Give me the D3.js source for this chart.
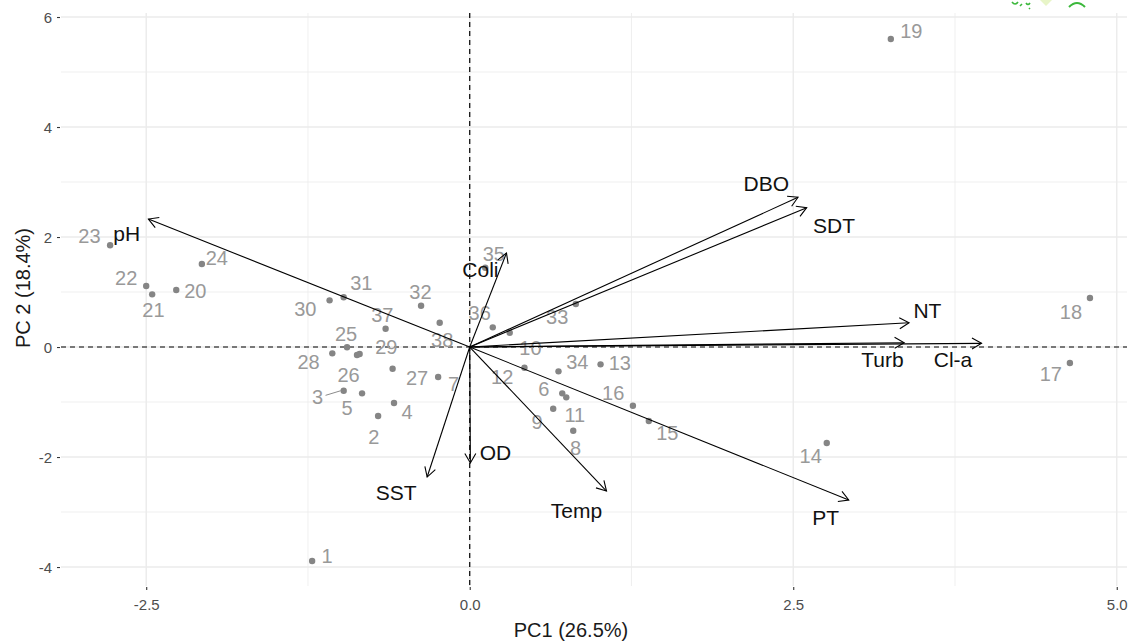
<!DOCTYPE html>
<html><head><meta charset="utf-8">
<script src="https://cdn.jsdelivr.net/npm/d3@7/dist/d3.min.js"></script>
<style>body{margin:0;background:#fff;} svg{display:block;font-family:"Liberation Sans",Arial,sans-serif;}</style>
</head><body>
<svg id="c" width="1132" height="642"></svg>
<script>
// ---- data ----
const obsIds = ["1","2","3","4","5","6","7","8","9","10","11","12","13","14","15","16","17","18","19","20","21","22","23","24","25","26","27","28","29","30","31","32","33","34","35","36","37","38"];
const obsPC1 = [-1.218,-0.708,-0.974,-0.585,-0.832,0.715,-0.244,0.800,0.645,0.309,0.746,0.423,1.011,2.759,1.384,1.261,4.638,4.793,3.254,-2.268,-2.454,-2.500,-2.779,-2.070,-0.948,-0.871,-0.596,-1.062,-0.851,-1.083,-0.974,-0.376,0.820,0.686,0.120,0.178,-0.650,-0.232];
const obsPC2 = [-3.891,-1.255,-0.795,-1.018,-0.842,-0.842,-0.545,-1.522,-1.122,0.260,-0.915,-0.376,-0.315,-1.745,-1.345,-1.067,-0.291,0.891,5.600,1.036,0.958,1.109,1.849,1.509,-0.005,-0.145,-0.395,-0.115,-0.127,0.849,0.904,0.751,0.782,-0.442,1.440,0.358,0.333,0.442];
// repelled label anchors (data units)
const lblPC1 = [-1.102,-0.742,-1.176,-0.484,-0.948,0.572,-0.124,0.817,0.521,0.469,0.812,0.251,1.160,2.635,1.527,1.109,4.491,4.646,3.413,-2.121,-2.444,-2.655,-2.939,-1.954,-0.956,-0.936,-0.407,-1.245,-0.644,-1.271,-0.838,-0.381,0.676,0.831,0.186,0.077,-0.675,-0.213];
const lblPC2 = [-3.800,-1.631,-0.915,-1.176,-1.109,-0.769,-0.673,-1.842,-1.358,-0.024,-1.236,-0.540,-0.285,-1.982,-1.558,-0.842,-0.491,0.636,5.745,1.024,0.673,1.249,2.018,1.613,0.236,-0.509,-0.569,-0.278,-0.005,0.691,1.164,1.000,0.551,-0.267,1.700,0.624,0.582,0.127];
const segmentIds = ["3"];

const varNames = ["pH","Coli","DBO","SDT","NT","Turb","Cl-a","PT","Temp","OD","SST"];
const varPC1 = [-2.483,0.284,2.537,2.604,3.395,3.357,3.955,2.929,1.057,0.005,-0.329];
const varPC2 = [2.327,1.709,2.722,2.533,0.442,0.078,0.067,-2.782,-2.618,-2.109,-2.364];
const varLblPC1 = [-2.650,0.083,2.292,2.815,3.537,3.189,3.735,2.751,0.825,0.199,-0.568];
const varLblPC2 = [2.067,1.400,2.976,2.200,0.655,-0.224,-0.224,-3.109,-2.982,-1.927,-2.655];

const xTicks = [-2.5,0.0,2.5,5.0];
const xMinor = [-1.25,1.25,3.75];
const yTicks = [-4,-2,0,2,4,6];
const yMinor = [-5,-3,-1,1,3,5];
const xTitle = "PC1 (26.5%)";
const yTitle = "PC 2 (18.4%)";

// ---- layout ----
const svg = d3.select("#c");
const P = {l:61, r:1127, t:13, b:586};
const x = d3.scaleLinear().domain([-3.1585,5.0792]).range([P.l,P.r]);
const y = d3.scaleLinear().domain([-4.345,6.073]).range([P.b,P.t]);

const grid = svg.append("g");
grid.selectAll(".vm").data(xMinor).join("line")
  .attr("x1",d=>x(d)).attr("x2",d=>x(d)).attr("y1",P.t).attr("y2",P.b)
  .attr("stroke","#ebebeb").attr("stroke-width",0.8);
grid.selectAll(".hm").data(yMinor.filter(v=>y(v)>=P.t&&y(v)<=P.b)).join("line")
  .attr("x1",P.l).attr("x2",P.r).attr("y1",d=>y(d)).attr("y2",d=>y(d))
  .attr("stroke","#ebebeb").attr("stroke-width",0.8);
grid.selectAll(".vM").data(xTicks).join("line")
  .attr("x1",d=>x(d)).attr("x2",d=>x(d)).attr("y1",P.t).attr("y2",P.b)
  .attr("stroke","#ebebeb").attr("stroke-width",1.4);
grid.selectAll(".hM").data(yTicks).join("line")
  .attr("x1",P.l).attr("x2",P.r).attr("y1",d=>y(d)).attr("y2",d=>y(d))
  .attr("stroke","#ebebeb").attr("stroke-width",1.4);

// axes
const hy = f => d => f(d).replace("\u2212","-");
const xAxis = d3.axisBottom(x).tickValues(xTicks).tickFormat(hy(d3.format(".1f"))).tickSize(3).tickPadding(9);
const gx = svg.append("g").attr("transform",`translate(0,${P.b+1})`).call(xAxis);
const yAxis = d3.axisLeft(y).tickValues(yTicks).tickFormat(hy(d3.format("d"))).tickSize(3).tickPadding(5);
const gy = svg.append("g").attr("transform",`translate(${P.l-1},0)`).call(yAxis);
[gx,gy].forEach(g=>{
  g.select(".domain").remove();
  g.selectAll(".tick line").attr("stroke","#333").attr("stroke-width",1.1);
  g.selectAll(".tick text").attr("fill","#4d4d4d").style("font-size","15px").style("font-family","Liberation Sans, Arial, sans-serif");
});
gy.selectAll(".tick text").attr("dy","0.35em");

svg.append("text").attr("x",571).attr("y",637).attr("text-anchor","middle")
  .style("font-size","20px").attr("fill","#1a1a1a").text(xTitle);
svg.append("text").attr("transform",`translate(30,288) rotate(-90)`).attr("text-anchor","middle")
  .style("font-size","20px").attr("fill","#1a1a1a").text(yTitle);

// reference dashed lines
svg.append("line").attr("x1",P.l).attr("x2",P.r).attr("y1",y(0)).attr("y2",y(0))
  .attr("stroke","#000").attr("stroke-width",1.2).attr("stroke-dasharray","5,4");
svg.append("line").attr("x1",x(0)).attr("x2",x(0)).attr("y1",P.t).attr("y2",P.b)
  .attr("stroke","#000").attr("stroke-width",1.2).attr("stroke-dasharray","5,4");

// observations
const obs = obsIds.map((id,i)=>({id, px:obsPC1[i], py:obsPC2[i], lx:lblPC1[i], ly:lblPC2[i]}));
svg.append("g").selectAll("line").data(obs.filter(d=>segmentIds.includes(d.id))).join("line")
  .attr("x1",d=>x(d.lx)+8).attr("y1",d=>y(d.ly)-2).attr("x2",d=>x(d.px)-3).attr("y2",d=>y(d.py))
  .attr("stroke","#8c8c8c").attr("stroke-width",1);
svg.append("g").selectAll("circle").data(obs).join("circle")
  .attr("cx",d=>x(d.px)).attr("cy",d=>y(d.py)).attr("r",3.2).attr("fill","#858585");
svg.append("g").selectAll("text").data(obs).join("text")
  .attr("x",d=>x(d.lx)).attr("y",d=>y(d.ly)).attr("text-anchor","middle").attr("dy","0.35em")
  .style("font-size","20px").attr("fill","#999999").text(d=>d.id);

// variable arrows
const vars = varNames.map((n,i)=>({n, vx:varPC1[i], vy:varPC2[i], lx:varLblPC1[i], ly:varLblPC2[i]}));
const ag = svg.append("g");
vars.forEach(v=>{
  const x0=x(0), y0=y(0), x1=x(v.vx), y1=y(v.vy);
  ag.append("line").attr("x1",x0).attr("y1",y0).attr("x2",x1).attr("y2",y1)
    .attr("stroke","#000").attr("stroke-width",1.1);
  const ang=Math.atan2(y1-y0,x1-x0), L=11, a=Math.PI/6;
  const p1=[x1-L*Math.cos(ang-a), y1-L*Math.sin(ang-a)];
  const p2=[x1-L*Math.cos(ang+a), y1-L*Math.sin(ang+a)];
  ag.append("path").attr("d",`M${p1[0]},${p1[1]}L${x1},${y1}L${p2[0]},${p2[1]}`)
    .attr("fill","none").attr("stroke","#000").attr("stroke-width",1.1);
});
svg.append("g").selectAll("text").data(vars).join("text")
  .attr("x",d=>x(d.lx)).attr("y",d=>y(d.ly)).attr("text-anchor","middle").attr("dy","0.35em")
  .style("font-size","21px").attr("fill","#111").text(d=>d.n);

// cropped green decoration at top edge
const deco = svg.append("g").attr("fill","none").attr("stroke","#3cb83c").attr("stroke-width",1.6);
deco.append("path").attr("d","M1012,2 q3,4 6,0 M1020,6 l2,-2 M1026,3 q2,3 4,0 M1029,8 l1,1");
deco.append("path").attr("d","M1069,7 q8,-8 16,0").attr("stroke-width",2);
svg.append("path").attr("d","M1040,0 L1052,0 L1046,6 Z").attr("fill","#e8f5c8");
</script>
</body></html>
